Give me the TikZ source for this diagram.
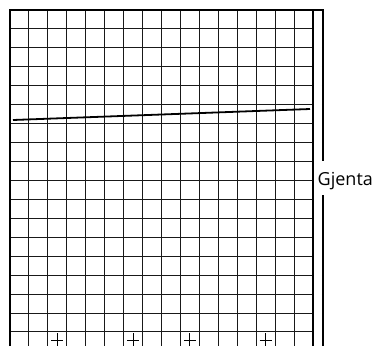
\documentclass[tikz,border=0pt]{standalone}
\usepackage{fontspec}
\setmainfont{Open Sans}
\usepackage{tikz}

\tikzset{
  gridline/.style={line width=1pt, black!90},
  frameline/.style={line width=2.2pt, black},
  bracketline/.style={line width=1.1pt, black},
  markcross/.style={line width=1pt, black}
}
\newcommand{\cellsize}{18.94}

\begin{document}
\begin{tikzpicture}[x=1pt, y=-1pt]
\useasboundingbox (0,0) rectangle (375,346);
\coordinate (TL) at (10,10);
\coordinate (TR) at (313.3,10);
\coordinate (BL) at (10,346);
\coordinate (BR) at (313.3,346);
% grid
\foreach \k in {1,...,15}
  \draw[gridline] ({10+\k*\cellsize},10) -- ({10+\k*\cellsize},346);
\foreach \k in {1,...,18}
  \draw[gridline] (10,{10+\k*\cellsize}) -- (313.3,{10+\k*\cellsize});
% crosses in the last row
\foreach \c in {2,6,9,13}
  \draw[markcross] ({10+(\c+0.5)*\cellsize-6},340) -- ({10+(\c+0.5)*\cellsize+6},340)
                   ({10+(\c+0.5)*\cellsize},333) -- ({10+(\c+0.5)*\cellsize},346);
% frame
\draw[frameline] (BL) -- (TL) -- (TR) -- (BR);
% slanted line
\coordinate (P) at (13,120);
\coordinate (Q) at (310,109);
\draw[line width=1.8pt] (P) -- (Q);
% bracket
\coordinate (K1) at (323,10);
\coordinate (K2) at (323,161);
\coordinate (K3) at (323,195);
\coordinate (K4) at (323,346);
\node[anchor=base west, inner sep=0pt, font=\fontsize{18}{20}\selectfont] (lbl) at (317.5,185) {Gjenta};
\draw[bracketline] (TR) -- (K1) -- (K2);
\draw[bracketline] (K3) -- (K4);
\end{tikzpicture}
\end{document}
